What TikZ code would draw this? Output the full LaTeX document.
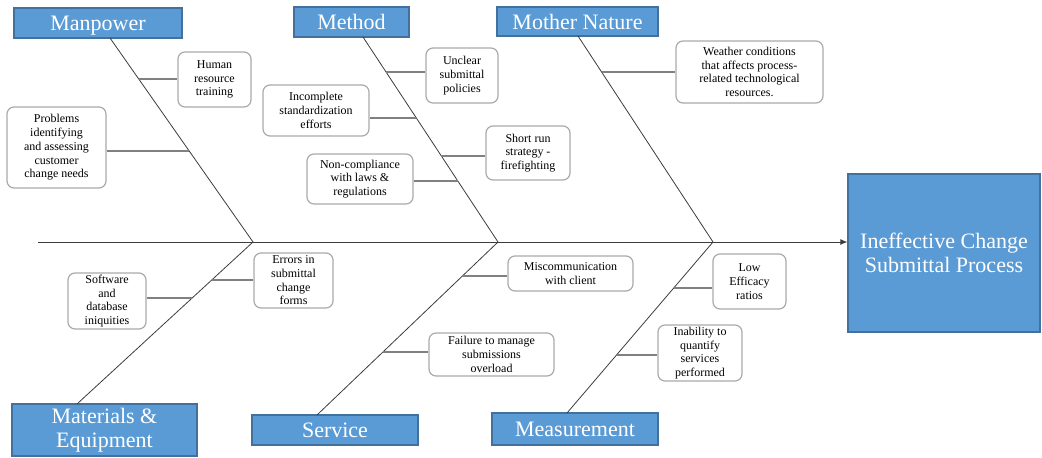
\documentclass[tikz,border=0pt]{standalone}
\usepackage{fontspec}
\setmainfont{Liberation Serif}
\usetikzlibrary{arrows.meta}
\definecolor{catblue}{RGB}{91,155,213}
\definecolor{catedge}{RGB}{65,113,156}
\definecolor{boxgray}{RGB}{170,170,170}
\definecolor{bonegray}{RGB}{60,60,60}

\begin{document}
\begin{tikzpicture}[x=1pt,y=-1pt,>={Latex[length=7pt,width=6pt]},
  cat/.style={draw=catedge,fill=catblue,line width=1.2pt,text=white,inner sep=0pt,align=center,font=\fontsize{22}{23.5}\selectfont},
  one/.style={text height=15.5pt,text depth=0pt},
  cause/.style={draw=boxgray,line width=1.2pt,rounded corners=7pt,fill=white,inner sep=0pt,align=center,font=\fontsize{12}{13.7}\selectfont},
  sz/.style 2 args={minimum width=#1pt,minimum height=#2pt},
  bone/.style={draw=bonegray,line width=0.8pt},
  spine/.style={draw=bonegray,line width=1pt},
  tap/.style={draw=gray,line width=1.2pt}]
  \useasboundingbox (0,0) rectangle (1042,458);
  \node[cat,one,sz={168}{30}] (mp) at (98,23) {Manpower};
  \node[cat,one,sz={115}{30}] (me) at (351.5,22) {Method};
  \node[cat,one,sz={161}{29}] (mn) at (577.5,21.5) {Mother Nature};
  \node[cat,sz={185}{52}] (ma) at (104.5,430) {Materials \&\\Equipment};
  \node[cat,one,sz={166}{30}] (sv) at (335,430) {Service};
  \node[cat,one,sz={166}{32}] (ms) at (575,429) {Measurement};
  \node[cat,sz={192}{158}] (eff) at (944,253) {Ineffective Change\\Submittal Process};
  \node[cause,sz={73}{55}] (hr) at (214.5,79.5) {Human\\resource\\training};
  \node[cause,sz={99}{81}] (pb) at (56.5,147.5) {Problems\\identifying\\and assessing\\customer\\change needs};
  \node[cause,sz={72}{55}] (uc) at (462,75.5) {Unclear\\submittal\\policies};
  \node[cause,sz={106}{51}] (ic) at (316,110.5) {Incomplete\\standardization\\efforts};
  \node[cause,sz={84}{54}] (sr) at (528,153) {Short run\\strategy -\\firefighting};
  \node[cause,sz={106}{50}] (nc) at (360,179) {Non-compliance\\with laws \&\\regulations};
  \node[cause,sz={147}{62}] (wc) at (749.5,72) {Weather conditions\\that affects process-\\related technological\\resources.};
  \node[cause,sz={78}{56}] (sw) at (107,301) {Software\\and\\database\\iniquities};
  \node[cause,sz={79}{55}] (er) at (293.5,280.5) {Errors in\\submittal\\change\\forms};
  \node[cause,sz={125}{35}] (mc) at (570.5,273.5) {Miscommunication\\with client};
  \node[cause,sz={125}{43}] (fm) at (491.5,354.5) {Failure to manage\\submissions\\overload};
  \node[cause,sz={73}{55}] (le) at (749.5,281.5) {Low\\Efficacy\\ratios};
  \node[cause,sz={84}{56}] (iq) at (700,353) {Inability to\\quantify\\services\\performed};
  \coordinate (tail) at (38,242);
  \coordinate (j1) at (253,242);
  \coordinate (j2) at (498,242);
  \coordinate (j3) at (713,242);
  \coordinate (mpb) at (110,38);
  \coordinate (meb) at (363,37);
  \coordinate (mnb) at (578,36);
  \coordinate (mab) at (77,404);
  \coordinate (svb) at (317,415);
  \coordinate (msb) at (567,413);
  \draw[spine,->] (tail) -- (tail -| eff.west);
  \draw[bone] (mpb) -- (j1) coordinate[pos=.201] (mp1) coordinate[pos=.554] (mp2);
  \draw[bone] (meb) -- (j2) coordinate[pos=.171] (me1) coordinate[pos=.395] (me2)
    coordinate[pos=.58] (me3) coordinate[pos=.702] (me4);
  \draw[bone] (mnb) -- (j3) coordinate[pos=.175] (mn1);
  \draw[bone] (j1) -- (mab) coordinate[pos=.235] (ma1) coordinate[pos=.346] (ma2);
  \draw[bone] (j2) -- (svb) coordinate[pos=.197] (sv1) coordinate[pos=.636] (sv2);
  \draw[bone] (j3) -- (msb) coordinate[pos=.269] (ms1) coordinate[pos=.661] (ms2);
  \draw[tap] (mp1) -- (mp1 -| hr.west);
  \draw[tap] (mp2) -- (mp2 -| pb.east);
  \draw[tap] (me1) -- (me1 -| uc.west);
  \draw[tap] (me2) -- (me2 -| ic.east);
  \draw[tap] (me3) -- (me3 -| sr.west);
  \draw[tap] (me4) -- (me4 -| nc.east);
  \draw[tap] (mn1) -- (mn1 -| wc.west);
  \draw[tap] (ma1) -- (ma1 -| er.west);
  \draw[tap] (ma2) -- (ma2 -| sw.east);
  \draw[tap] (sv1) -- (sv1 -| mc.west);
  \draw[tap] (sv2) -- (sv2 -| fm.west);
  \draw[tap] (ms1) -- (ms1 -| le.west);
  \draw[tap] (ms2) -- (ms2 -| iq.west);
\end{tikzpicture}
\end{document}
